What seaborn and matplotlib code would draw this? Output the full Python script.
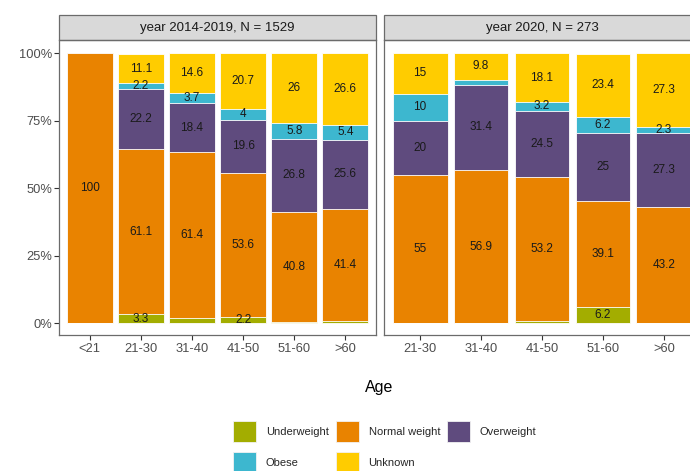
import numpy as np
import pandas as pd
import matplotlib
matplotlib.use("Agg")
import matplotlib.pyplot as plt
from matplotlib.patches import Rectangle, Patch
import seaborn as sns

# ---- data: BMI class shares (%) by age group -------------------------------
classes = ["Underweight", "Normal weight", "Overweight", "Obese", "Unknown"]
colors = ["#A3AD00", "#E98300", "#5F4B7E", "#3DB7CF", "#FFCC00"]

ages_1419 = ["<21", "21-30", "31-40", "41-50", "51-60", ">60"]
under_1419 = [0.0, 3.3, 1.9, 2.2, 0.6, 1.0]
normal_1419 = [100.0, 61.1, 61.4, 53.6, 40.8, 41.4]
over_1419 = [0.0, 22.2, 18.4, 19.6, 26.8, 25.6]
obese_1419 = [0.0, 2.2, 3.7, 4.0, 5.8, 5.4]
unknown_1419 = [0.0, 11.1, 14.6, 20.7, 26.0, 26.6]

ages_2020 = ["21-30", "31-40", "41-50", "51-60", ">60"]
under_2020 = [0.0, 0.0, 1.0, 6.2, 0.0]
normal_2020 = [55.0, 56.9, 53.2, 39.1, 43.2]
over_2020 = [20.0, 31.4, 24.5, 25.0, 27.3]
obese_2020 = [10.0, 1.9, 3.2, 6.2, 2.3]
unknown_2020 = [15.0, 9.8, 18.1, 23.4, 27.3]

panels = [
    ("year 2014-2019, N = 1529", ages_1419,
     [under_1419, normal_1419, over_1419, obese_1419, unknown_1419]),
    ("year 2020, N = 273", ages_2020,
     [under_2020, normal_2020, over_2020, obese_2020, unknown_2020]),
]

FONT = ["Liberation Sans", "DejaVu Sans"]
sns.set_theme(style="white")
plt.rcParams["font.family"] = FONT

W, H = 690, 471
fig = plt.figure(figsize=(W / 100, H / 100), dpi=100)

def fx(px):
    return px / W

def fy(px):
    return 1 - px / H

panel_left = [59, 383.5]
panel_w = 317
panel_top, panel_bottom = 40, 335
strip_h = 25

for (title, ages, series), left in zip(panels, panel_left):
    ax = fig.add_axes([fx(left), fy(panel_bottom), panel_w / W,
                       (panel_bottom - panel_top) / H])
    df = pd.DataFrame({"age": ages})
    for name, vals in zip(classes, series):
        df[name] = vals
    cum = df[classes].cumsum(axis=1)

    # stacked bars: draw cumulative totals from the top class downwards
    for i in range(len(classes) - 1, -1, -1):
        plot_df = pd.DataFrame({"age": ages, "top": cum[classes[i]].values})
        sns.barplot(data=plot_df, x="age", y="top", order=ages, ax=ax,
                    color=colors[i], saturation=1, width=0.9,
                    edgecolor="white", linewidth=0.6, errorbar=None)

    # segment labels centred in each block
    for j, age in enumerate(ages):
        base = 0.0
        for name in classes:
            v = df.loc[j, name]
            if v >= 2:
                ax.text(j, base + v / 2, f"{v:g}", ha="center", va="center",
                        fontsize=8.5, color="#1a1a1a", family=FONT)
            base += v

    ax.set_xlim(-0.6, len(ages) - 0.4)
    ax.set_ylim(-4.3, 104.9)
    ax.set_xlabel("")
    ax.set_ylabel("")
    ax.set_facecolor("white")
    for s in ax.spines.values():
        s.set_visible(True)
        s.set_color("#6b6b6b")
        s.set_linewidth(0.9)
    ax.tick_params(axis="x", bottom=True, length=3.5, width=0.8,
                   color="#333333", pad=2.5, labelsize=9.3,
                   labelcolor="#4d4d4d")
    ax.set_xticks(range(len(ages)))
    ax.set_xticklabels(ages)
    if left == panel_left[0]:
        ax.set_yticks([0, 25, 50, 75, 100])
        ax.set_yticklabels(["0%", "25%", "50%", "75%", "100%"])
        ax.tick_params(axis="y", left=True, length=3.5, width=0.8,
                       color="#333333", pad=1.5, labelsize=9.3,
                       labelcolor="#4d4d4d")
    else:
        ax.set_yticks([])

    # facet strip
    h = strip_h / (panel_bottom - panel_top)
    ax.add_patch(Rectangle((0, 1), 1, h, transform=ax.transAxes,
                           facecolor="#D9D9D9", edgecolor="#6b6b6b",
                           linewidth=0.9, clip_on=False))
    ax.text(0.5, 1 + h / 2, title, transform=ax.transAxes, ha="center",
            va="center", fontsize=9.5, color="#1a1a1a", family=FONT)

fig.text(fx(378.8), fy(392), "Age", ha="center", va="baseline",
         fontsize=11.5, color="black", family=FONT)

handles = [Patch(facecolor=c, edgecolor="#f2f2f2", linewidth=0.6)
           for c in colors]
# fill the 3-column legend row by row
order = [0, 3, 1, 4, 2]
fig.legend([handles[i] for i in order], [classes[i] for i in order],
           ncol=3, loc="upper left", bbox_to_anchor=(fx(233), fy(421)),
           frameon=False, borderpad=0, borderaxespad=0,
           prop={"family": FONT, "size": 8},
           handlelength=2.07, handleheight=2.56, handletextpad=0.9,
           columnspacing=0.6, labelspacing=0.9)

fig.savefig("out.png", dpi=100)
